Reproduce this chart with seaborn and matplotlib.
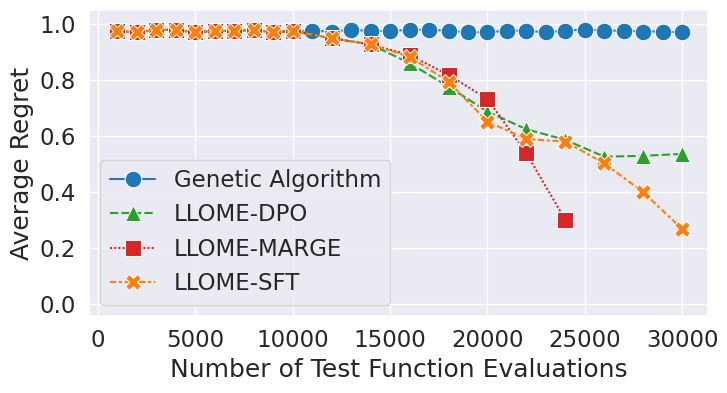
import numpy as np
import pandas as pd
import matplotlib
matplotlib.use("Agg")
import matplotlib.pyplot as plt
import seaborn as sns

early_x = [1000, 2000, 3000, 4000, 5000, 6000, 7000, 8000, 9000, 10000]
early_y = [0.975, 0.970, 0.979, 0.979, 0.970, 0.975, 0.975, 0.979, 0.970, 0.975]

ga_x = early_x + [11000, 12000, 13000, 14000, 15000, 16000, 17000, 18000, 19000, 20000,
                  21000, 22000, 23000, 24000, 25000, 26000, 27000, 28000, 29000, 30000]
ga_y = early_y + [0.976, 0.973, 0.979, 0.975, 0.975, 0.979, 0.979, 0.976, 0.970, 0.970,
                  0.976, 0.976, 0.970, 0.976, 0.980, 0.976, 0.976, 0.973, 0.973, 0.970]

dpo_x = early_x + [12000, 14000, 16000, 18000, 20000, 22000, 24000, 26000, 28000, 30000]
dpo_y = early_y + [0.949, 0.927, 0.860, 0.776, 0.687, 0.624, 0.586, 0.526, 0.529, 0.536]

marge_x = early_x + [12000, 14000, 16000, 18000, 20000, 22000, 24000]
marge_y = early_y + [0.949, 0.927, 0.889, 0.818, 0.732, 0.538, 0.300]

sft_x = early_x + [12000, 14000, 16000, 18000, 20000, 22000, 24000, 26000, 28000, 30000]
sft_y = early_y + [0.949, 0.927, 0.883, 0.794, 0.651, 0.589, 0.580, 0.502, 0.399, 0.267]

methods = ["Genetic Algorithm", "LLOME-DPO", "LLOME-MARGE", "LLOME-SFT"]

frames = []
for name, xs, ys in [(methods[0], ga_x, ga_y), (methods[1], dpo_x, dpo_y),
                     (methods[2], marge_x, marge_y), (methods[3], sft_x, sft_y)]:
    frames.append(pd.DataFrame({"evals": xs, "regret": ys, "method": name}))
df = pd.concat(frames, ignore_index=True)

sns.set_theme(style="darkgrid", font_scale=1.5)

palette = {methods[0]: "#1f77b4", methods[1]: "#2ca02c",
           methods[2]: "#d62728", methods[3]: "#ff7f0e"}
markers = {methods[0]: "o", methods[1]: "^", methods[2]: "s", methods[3]: "X"}
dashes = {methods[0]: "", methods[1]: (4, 1.5), methods[2]: (1, 1),
          methods[3]: (3, 1.25, 1.5, 1.25)}

fig, ax = plt.subplots(figsize=(7.27, 3.93), dpi=100)
fig.subplots_adjust(left=0.1224, right=0.974, top=0.9746, bottom=0.196)

sns.lineplot(data=df, x="evals", y="regret", hue="method", style="method",
             hue_order=methods, style_order=methods,
             palette=palette, markers=markers, dashes=dashes,
             markersize=12, linewidth=1.5, ax=ax)

ax.set_xlim(-462, 31330)
ax.set_ylim(-0.043, 1.05)
ax.set_xticks([0, 5000, 10000, 15000, 20000, 25000, 30000])
ax.set_yticks([0.0, 0.2, 0.4, 0.6, 0.8, 1.0])
ax.set_xlabel("Number of Test Function Evaluations")
ax.set_ylabel("Average Regret")
ax.legend(title=None, loc="lower left", fontsize=16.5)

fig.savefig("out.png", dpi=100)
